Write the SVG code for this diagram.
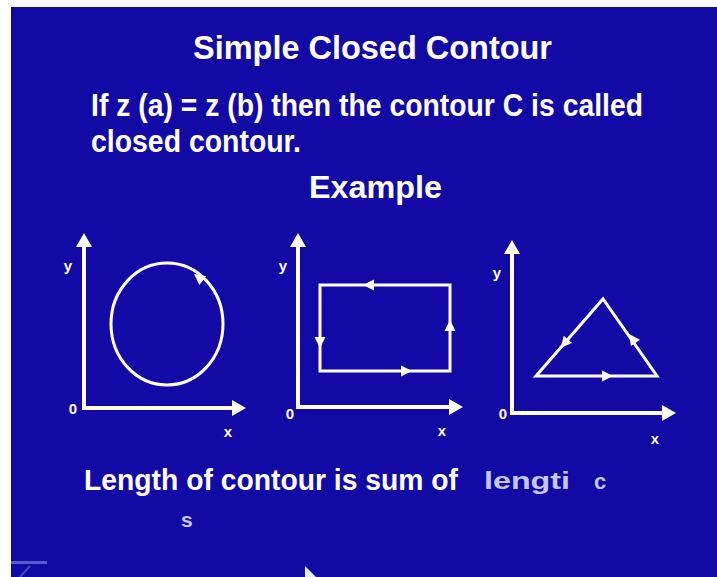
<svg xmlns="http://www.w3.org/2000/svg" xmlns:xlink="http://www.w3.org/1999/xlink" width="717" height="577" viewBox="0 0 717 577">
  <style>
    .t { font-family: "Liberation Sans", Arial, sans-serif; font-weight: bold; fill: #ffffff; }
    .dim { font-family: "Liberation Sans", Arial, sans-serif; font-weight: bold; fill: #c4c6f0; }
    .lbl { font-family: "Liberation Sans", Arial, sans-serif; font-weight: bold; fill: #ffffff; font-size: 15px; }
    .axis { stroke: #ffffff; stroke-width: 4; fill: none; stroke-linecap: butt; }
    .shape { stroke: #ffffff; stroke-width: 3; fill: none; stroke-linejoin: miter; }
    .ah { fill: #ffffff; }
  </style>
  <defs>
    <path id="axhead" d="M0,0 L-14,-8 L-14,8 Z"/>
    <path id="mid" d="M5,0 L-6,-5.5 L-6,5.5 Z"/>
  </defs>

  <rect x="0" y="0" width="717" height="577" fill="#ffffff"/>
  <rect x="11" y="7" width="706" height="570" fill="#130aa5"/>

  <g id="title">
    <text class="t" x="193" y="59" font-size="33" textLength="359" lengthAdjust="spacingAndGlyphs">Simple Closed Contour</text>
  </g>
  <g id="definition">
    <text class="t" x="91" y="116" font-size="31" textLength="552" lengthAdjust="spacingAndGlyphs">If z (a) = z (b) then the contour C is called</text>
    <text class="t" x="91" y="152" font-size="31" textLength="210" lengthAdjust="spacingAndGlyphs">closed contour.</text>
  </g>
  <g id="example-heading">
    <text class="t" x="309" y="198" font-size="31" textLength="133" lengthAdjust="spacingAndGlyphs">Example</text>
  </g>

  <g id="graph-circle">
    <line class="axis" x1="84" y1="408" x2="84" y2="246"/>
    <line class="axis" x1="82" y1="408" x2="232" y2="408"/>
    <use xlink:href="#axhead" class="ah" transform="translate(84,233) rotate(-90)"/>
    <use xlink:href="#axhead" class="ah" transform="translate(246,408)"/>
    <text class="lbl" x="68" y="271" text-anchor="middle">y</text>
    <text class="lbl" x="73" y="414" text-anchor="middle">0</text>
    <text class="lbl" x="228" y="437" text-anchor="middle">x</text>
    <ellipse class="shape" cx="167" cy="324" rx="56" ry="61"/>
    <use xlink:href="#mid" class="ah" transform="translate(198,277) rotate(-142)"/>
  </g>

  <g id="graph-rectangle">
    <line class="axis" x1="298" y1="408" x2="298" y2="246"/>
    <line class="axis" x1="296" y1="407" x2="449" y2="407"/>
    <use xlink:href="#axhead" class="ah" transform="translate(298,233) rotate(-90)"/>
    <use xlink:href="#axhead" class="ah" transform="translate(463,407)"/>
    <text class="lbl" x="283" y="271" text-anchor="middle">y</text>
    <text class="lbl" x="290" y="419" text-anchor="middle">0</text>
    <text class="lbl" x="442" y="436" text-anchor="middle">x</text>
    <rect class="shape" x="320" y="285" width="130" height="86"/>
    <use xlink:href="#mid" class="ah" transform="translate(368,285) rotate(180)"/>
    <use xlink:href="#mid" class="ah" transform="translate(450,325) rotate(-90)"/>
    <use xlink:href="#mid" class="ah" transform="translate(320,343) rotate(90)"/>
    <use xlink:href="#mid" class="ah" transform="translate(407,371)"/>
  </g>

  <g id="graph-triangle">
    <line class="axis" x1="512" y1="414" x2="512" y2="253"/>
    <line class="axis" x1="510" y1="413" x2="662" y2="413"/>
    <use xlink:href="#axhead" class="ah" transform="translate(512,240) rotate(-90)"/>
    <use xlink:href="#axhead" class="ah" transform="translate(676,413)"/>
    <text class="lbl" x="497" y="278" text-anchor="middle">y</text>
    <text class="lbl" x="503" y="419" text-anchor="middle">0</text>
    <text class="lbl" x="655" y="444" text-anchor="middle">x</text>
    <polygon class="shape" points="536,376 603,299 657,376"/>
    <use xlink:href="#mid" class="ah" transform="translate(608,376)"/>
    <use xlink:href="#mid" class="ah" transform="translate(632,338) rotate(-125)"/>
    <use xlink:href="#mid" class="ah" transform="translate(564,344) rotate(131)"/>
  </g>

  <g id="summary">
    <text class="t" x="84" y="490" font-size="29" textLength="374" lengthAdjust="spacingAndGlyphs">Length of contour is sum of</text>
    <text class="dim" x="484" y="489" font-size="24" textLength="86" lengthAdjust="spacingAndGlyphs">lengti</text>
    <text class="dim" x="594" y="489" font-size="22">c</text>
    <text class="dim" x="181" y="527" font-size="21">s</text>
  </g>

  <g id="artifacts">
    <rect x="11" y="561" width="36" height="3" fill="#5a5ad0"/>
    <line x1="20" y1="577" x2="30" y2="566" stroke="#4a4ac4" stroke-width="2"/>
    <polygon points="305,566 305,577 316,577" fill="#ffffff" opacity="0.9"/>
  </g>
</svg>
